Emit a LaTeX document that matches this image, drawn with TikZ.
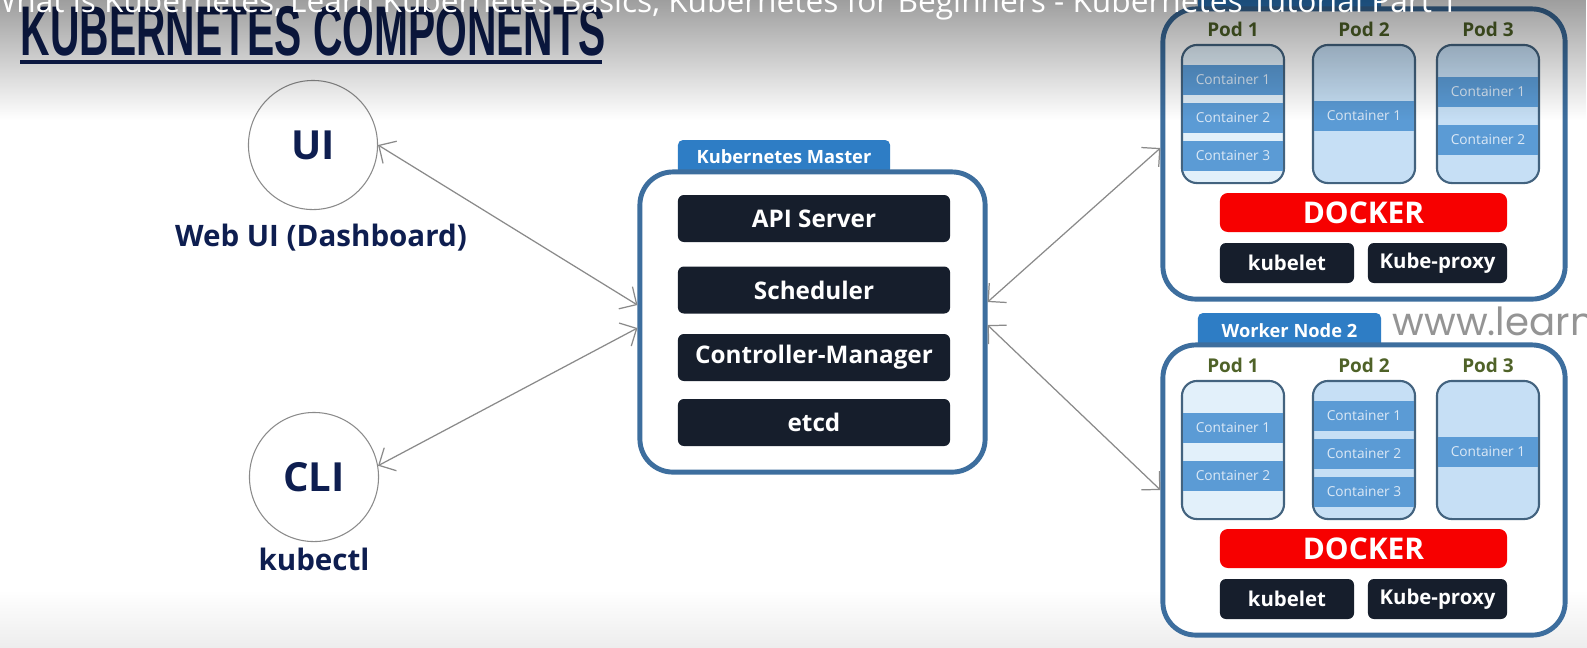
\documentclass[tikz,border=0pt]{standalone}
\usepackage{fontspec}
\setmainfont{Open Sans}
\newfontfamily\titlefont{Liberation Sans}
\newfontfamily\sitefont{Poppins}
\usetikzlibrary{positioning,arrows.meta,calc,fadings}

\definecolor{navytext}{HTML}{0E1E50}
\definecolor{steel}{HTML}{3D6E9E}
\definecolor{tabblue}{HTML}{2E7DC5}
\definecolor{darkbox}{HTML}{161E2C}
\definecolor{podline}{HTML}{43637F}
\definecolor{podfill}{HTML}{C6DFF5}
\definecolor{podlight}{HTML}{E2F0FA}
\definecolor{bandblue}{HTML}{5B9BD5}
\definecolor{bandtext}{HTML}{DCE9F6}
\definecolor{podgreen}{HTML}{4F6228}
\definecolor{dockred}{HTML}{F70000}
\definecolor{conngray}{HTML}{8A8A8A}

\tikzset{
  compbox/.style={fill=darkbox, rounded corners=0.06cm, minimum width=2.72cm, minimum height=0.47cm, text=white, font=\bfseries\fontsize{6.9pt}{8pt}\selectfont, inner sep=0},
  tabbox/.style={fill=tabblue, rounded corners=0.05cm, text=white, font=\bfseries\fontsize{5.2pt}{6pt}\selectfont, inner sep=0},
  bigbox/.style={draw=steel, line width=1.4pt, fill=white, rounded corners=0.33cm, inner sep=0},
  podbox/.style={draw=podline, line width=0.6pt, rounded corners=0.15cm, minimum width=1.02cm, minimum height=1.38cm, inner sep=0},
  bandbox/.style={fill=bandblue, minimum width=0.99cm, minimum height=0.30cm, text=bandtext, font=\fontsize{3.9pt}{5pt}\selectfont, inner sep=0},
  podlabel/.style={text=podgreen, font=\bfseries\fontsize{5.4pt}{6pt}\selectfont, inner sep=0},
  dockerbox/.style={fill=dockred, rounded corners=0.08cm, minimum width=2.87cm, minimum height=0.39cm, text=white, font=\bfseries\fontsize{8.5pt}{9pt}\selectfont, inner sep=0},
  agentbox/.style={fill=darkbox, rounded corners=0.06cm, minimum height=0.40cm, text=white, font=\bfseries\fontsize{5.8pt}{7pt}\selectfont, inner sep=0},
  client/.style={circle, draw=conngray, line width=0.3pt, minimum size=1.29cm, text=navytext, font=\bfseries\fontsize{11.4pt}{12pt}\selectfont, inner sep=0},
  clientlabel/.style={text=navytext, font=\bfseries\fontsize{8.4pt}{9pt}\selectfont, inner sep=0},
  conn/.style={draw=conngray, line width=0.35pt, {Straight Barb[length=1.3mm,width=2.6mm]}-{Straight Barb[length=1.3mm,width=2.6mm]}}
}

\begin{document}
\begin{tikzpicture}[x=0.01cm, y=-0.01cm]
\useasboundingbox (0,0) rectangle (1587,647);
% Fond
\fill[white] (0,0) rectangle (1587,647);
\shade[top color=white, bottom color=black!7] (0,590) rectangle (1587,647);

% Titre
\node[anchor=base west, inner sep=0, text=navytext] (title) at (20,55) {\titlefont\bfseries\fontsize{20pt}{20pt}\selectfont\scalebox{0.58}[1]{KUBERNETES COMPONENTS}};
\draw[navytext, line width=0.9pt] (20,62) -- (602,62);

% Clients
\node[client] (ui) at (313,145) {UI};
\node[clientlabel] (webui) at (321,238) {Web UI (Dashboard)};
\node[client] (cli) at (314,477) {CLI};
\node[clientlabel] (kubectl) at (314,559) {kubectl};

% Master
\node[tabbox, minimum width=2.12cm, minimum height=0.34cm] (mastertab) at (784,157) {Kubernetes Master};
\node[bigbox, minimum width=3.45cm, minimum height=3.00cm] (master) at (812.5,322) {};
\foreach \name/\y/\txt in {api/218.5/API Server, sched/290/Scheduler, ctrl/357.5/Controller-Manager, etcd/422.5/etcd}
  \node[compbox] (\name) at (814,\y) {\txt};

% Worker nodes
\foreach \w/\T/\tabtxt/\pods in {1/0/{}/{1233/3/podlight,1364/1/podfill,1488/2/podfill}, 2/336/{Worker Node 2}/{1233/2/podlight,1364/3/podfill,1488/1/podfill}} {
  \node[tabbox, minimum width=1.83cm, minimum height=0.36cm] (w\w-tab) at (1289.5,\T-5) {\tabtxt};
  \node[bigbox, minimum width=4.02cm, minimum height=2.90cm] (w\w) at (1364,\T+154) {};
  % Pods
  \foreach \px/\n/\pf [count=\p] in \pods {
    \node[podlabel] (w\w-lab\p) at (\px,\T+29) {Pod \p};
    \node[podbox, fill=\pf] (w\w-pod\p) at (\px,\T+114) {};
    \foreach \c in {1,...,\n} {
      \pgfmathsetmacro\cy{\n==3 ? 42+38*\c : (\n==2 ? 44+48*\c : 116)}
      \node[bandbox] (w\w-pod\p-c\c) at (\px,\T+\cy) {Container \c};
    }
  }
  \node[dockerbox] (w\w-docker) at (1363.5,\T+212.5) {DOCKER};
  \node[agentbox, minimum width=1.34cm] (w\w-kubelet) at (1287,\T+263) {kubelet};
  \node[agentbox, minimum width=1.39cm] (w\w-proxy) at (1437.5,\T+263) {Kube-proxy};
}
\node[anchor=base west, inner sep=0, text=black!42, font=\sitefont\fontsize{11pt}{12pt}\selectfont] (site) at (1392,335) {www.learn};

% Connexions
\draw[conn] (ui.east) -- ($(master.west)+(0,-17)$);
\draw[conn] (cli.10) -- ($(master.west)+(0,6)$);
\draw[conn] ($(master.east)+(0,-20)$) -- ($(w1.west)+(0,-6)$);
\draw[conn] ($(master.east)+(0,3)$) -- (w2.west);

% Bandeau video
\fill[black, opacity=0.38, path fading=south] (0,0) rectangle (1587,120);
\node[anchor=base east, inner sep=0, text=white, font=\fontsize{9pt}{10pt}\selectfont] (yttitle) at (1459,12) {What is Kubernetes, Learn Kubernetes Basics, Kubernetes for Beginners - Kubernetes Tutorial Part 1};
\end{tikzpicture}
\end{document}
